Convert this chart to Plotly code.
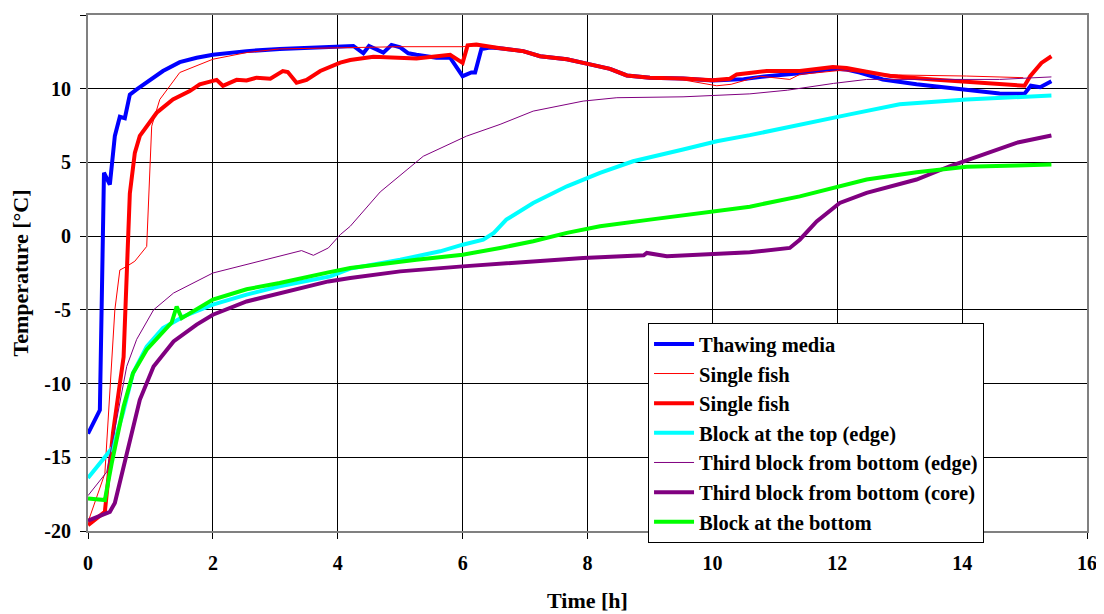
import plotly.graph_objects as go

# Thawing media (thick blue)
blue_x = [0, 0.19, 0.256, 0.35, 0.43, 0.51, 0.59, 0.67, 0.78, 0.94, 1.2, 1.47, 1.74, 2.0, 2.54, 3.07, 3.6, 4.08,
          4.25, 4.41, 4.5, 4.73, 4.86, 5.0, 5.13, 5.26, 5.58, 5.8, 6.0, 6.14, 6.2, 6.3, 6.44, 6.6, 6.97, 7.24, 7.67,
          8.04, 8.36, 8.63, 9.0, 9.53, 10.0, 10.28, 10.5, 10.87, 11.4, 11.93, 12.15, 12.36, 12.73, 13.27, 14.07,
          14.6, 15.0, 15.1, 15.25, 15.43]
blue_y = [-13.4, -11.8, 4.3, 3.5, 6.8, 8.1, 8.0, 9.6, 9.95, 10.4, 11.2, 11.8, 12.1, 12.3, 12.55, 12.7, 12.78, 12.9,
          12.9, 12.4, 12.9, 12.45, 12.97, 12.8, 12.4, 12.3, 12.1, 12.1, 10.85, 11.1, 11.1, 12.7, 12.8, 12.75, 12.55,
          12.2, 12.0, 11.65, 11.35, 10.9, 10.75, 10.7, 10.55, 10.6, 10.65, 10.85, 11.05, 11.35, 11.3, 11.1, 10.63,
          10.3, 9.95, 9.68, 9.66, 10.2, 10.1, 10.5]

# Single fish (thin red)
sf1_x = [0, 0.27, 0.43, 0.51, 0.62, 0.75, 0.94, 0.99, 1.02, 1.15, 1.47, 2.0, 2.54, 3.07, 4.14, 5.0, 6.0, 6.1,
         6.22, 6.6, 6.97, 7.24, 7.67, 8.04, 8.36, 8.63, 9.0, 9.53, 10.07, 10.3, 10.76, 11.24, 11.4, 11.67, 12.04,
         12.47, 12.98, 14.07, 14.98]
sf1_y = [-19.4, -16.1, -5.0, -2.3, -2.05, -1.7, -0.7, 5.2, 7.46, 9.27, 11.1, 12.0, 12.45, 12.7, 12.78, 12.85, 12.85,
         12.9, 12.9, 12.7, 12.45, 12.2, 12.0, 11.6, 11.3, 10.85, 10.7, 10.6, 10.2, 10.3, 10.85, 10.63, 10.97,
         11.08, 11.24, 11.08, 10.93, 10.86, 10.75]

# Single fish (thick red)
sf2_x = [0, 0.27, 0.4, 0.57, 0.67, 0.75, 0.83, 0.99, 1.1, 1.36, 1.63, 1.79, 2.06, 2.16, 2.38, 2.54, 2.7, 2.92,
         3.12, 3.2, 3.34, 3.5, 3.72, 4.04, 4.2, 4.57, 4.73, 5.26, 5.8, 6.0, 6.08, 6.22, 6.6, 6.97, 7.24, 7.67, 8.04,
         8.36, 8.63, 9.0, 9.53, 10.0, 10.28, 10.39, 10.87, 11.4, 11.93, 12.15, 12.47, 12.85, 13.53, 14.07, 14.6,
         15.0, 15.09, 15.27, 15.43]
sf2_y = [-19.6, -18.7, -13.35, -8.2, 2.9, 5.65, 6.8, 7.7, 8.37, 9.27, 9.84, 10.3, 10.6, 10.2, 10.6, 10.56, 10.75,
         10.68, 11.2, 11.13, 10.4, 10.6, 11.2, 11.77, 11.95, 12.17, 12.15, 12.05, 12.3, 11.75, 12.94, 13.0, 12.75,
         12.55, 12.2, 12.0, 11.65, 11.35, 10.9, 10.75, 10.7, 10.57, 10.68, 10.97, 11.2, 11.2, 11.47, 11.4, 11.15,
         10.86, 10.63, 10.45, 10.3, 10.2, 10.85, 11.75, 12.2]

# Block at the top (edge) (cyan)
top_x = [0, 0.4, 0.56, 0.72, 0.94, 1.2, 1.53, 2.0, 2.54, 3.07, 3.88, 4.2, 5.0, 5.64, 6.0, 6.33, 6.5, 6.7, 7.13,
         7.67, 8.2, 8.73, 9.53, 10.07, 10.6, 11.4, 12.2, 13.0, 14.07, 15.43]
top_y = [-16.4, -14.3, -12.0, -9.3, -7.5, -6.24, -5.45, -4.65, -3.97, -3.4, -2.73, -2.2, -1.6, -1.03, -0.58, -0.24,
         0.22, 1.12, 2.25, 3.38, 4.29, 5.08, 5.88, 6.44, 6.85, 7.58, 8.26, 8.94, 9.27, 9.54]

# Third block from bottom (edge) (thin purple)
edge_x = [0, 0.3, 0.62, 0.78, 1.05, 1.37, 2.0, 2.54, 3.07, 3.42, 3.61, 3.85, 4.04, 4.2, 4.68, 5.37, 6.06, 6.6,
          7.13, 7.93, 8.47, 9.53, 10.6, 11.2, 11.94, 12.47, 13.53, 14.6, 15.43]
edge_y = [-17.6, -16.0, -8.84, -7.0, -5.0, -3.86, -2.5, -1.94, -1.37, -0.98, -1.3, -0.8, 0.1, 0.67, 3.0, 5.42,
          6.78, 7.58, 8.48, 9.16, 9.39, 9.45, 9.65, 9.9, 10.36, 10.63, 10.63, 10.63, 10.8]

# Third block from bottom (core) (thick purple)
core_x = [0, 0.35, 0.43, 0.57, 0.67, 0.83, 1.05, 1.37, 1.74, 2.0, 2.54, 3.07, 3.85, 4.2, 5.0, 6.0, 7.13, 7.93,
          8.9, 8.95, 9.27, 10.07, 10.6, 11.24, 11.4, 11.67, 12.04, 12.47, 13.27, 13.8, 14.34, 14.87, 15.43]
core_y = [-19.3, -18.7, -18.1, -15.6, -13.8, -11.1, -8.84, -7.14, -6.0, -5.33, -4.43, -3.86, -3.07, -2.84, -2.39,
          -2.05, -1.7, -1.48, -1.3, -1.14, -1.37, -1.2, -1.1, -0.8, -0.24, 1.0, 2.25, 2.94, 3.84, 4.74, 5.54, 6.33,
          6.83]

# Block at the bottom (green)
bot_x = [0, 0.27, 0.38, 0.57, 0.72, 0.94, 1.34, 1.42, 1.5, 2.0, 2.54, 3.07, 3.85, 4.2, 5.26, 6.0, 6.6, 7.13,
         7.67, 8.2, 9.0, 10.07, 10.6, 11.4, 11.94, 12.47, 13.27, 14.07, 14.87, 15.43]
bot_y = [-17.8, -17.9, -15.4, -11.56, -9.3, -7.7, -5.86, -4.77, -5.56, -4.3, -3.6, -3.18, -2.46, -2.16, -1.6,
         -1.26, -0.8, -0.35, 0.22, 0.67, 1.12, 1.69, 2.0, 2.7, 3.27, 3.84, 4.33, 4.7, 4.79, 4.86]

# Axis tick values and labels (hyphen-minus as in the reference)
y_tickvals = [-20, -15, -10, -5, 0, 5, 10, 15]
y_ticktext = ["-20", "-15", "-10", "-5", "0", "5", "10", "15"]
x_tickvals = [0, 2, 4, 6, 8, 10, 12, 14, 16]
x_ticktext = ["0", "2", "4", "6", "8", "10", "12", "14", "16"]

series = [
    ("Thawing media", blue_x, blue_y, "#0000FF", 4),
    ("Single fish", sf1_x, sf1_y, "#FF0000", 1),
    ("Single fish", sf2_x, sf2_y, "#FF0000", 4),
    ("Block at the top (edge)", top_x, top_y, "#00FFFF", 4),
    ("Third block from bottom (edge)", edge_x, edge_y, "#800080", 1),
    ("Third block from bottom (core)", core_x, core_y, "#800080", 4),
    ("Block at the bottom", bot_x, bot_y, "#00FF00", 4),
]

fig = go.Figure()
for name, xs, ys, col, w in series:
    fig.add_trace(go.Scatter(x=xs, y=ys, mode="lines", name=name,
                             line=dict(color=col, width=w)))

font_family = "Liberation Serif"
# the page body adds an 8px offset, so the figure is 8px smaller than the window
fig.update_layout(
    width=1096, height=606,
    margin=dict(l=80, r=17, t=7, b=83),
    paper_bgcolor="white", plot_bgcolor="white",
    font=dict(family=font_family, color="black"),
    showlegend=True,
    legend=dict(x=0.5606, y=0.403, xanchor="left", yanchor="top",
                bgcolor="white", bordercolor="black", borderwidth=1,
                font=dict(family=font_family, size=20.5, color="black", weight="bold"),
                tracegroupgap=0, itemwidth=40),
)
fig.update_xaxes(range=[0, 16], tickmode="array", tickvals=x_tickvals, ticktext=x_ticktext,
                 showgrid=True, gridcolor="black", gridwidth=1,
                 showline=True, linecolor="#808080", linewidth=2, mirror=True, automargin=False,
                 ticks="outside", ticklen=6, tickcolor="black", zeroline=False, ticklabelstandoff=7,
                 tickfont=dict(family=font_family, size=20, color="black", weight="bold"),
                 title=dict(text="Time [h]", font=dict(family=font_family, size=22, color="black", weight="bold"),
                            standoff=20))
fig.update_yaxes(range=[-20, 15], tickmode="array", tickvals=y_tickvals, ticktext=y_ticktext,
                 showgrid=True, gridcolor="black", gridwidth=1,
                 showline=True, linecolor="#808080", linewidth=2, mirror=True, automargin=False,
                 ticks="outside", ticklen=6, tickcolor="black", zeroline=False, ticklabelstandoff=5,
                 tickfont=dict(family=font_family, size=20, color="black", weight="bold"),
                 title=dict(text="Temperature [°C]", font=dict(family=font_family, size=22, color="black", weight="bold"),
                            standoff=10))

fig.write_html("out.html")
